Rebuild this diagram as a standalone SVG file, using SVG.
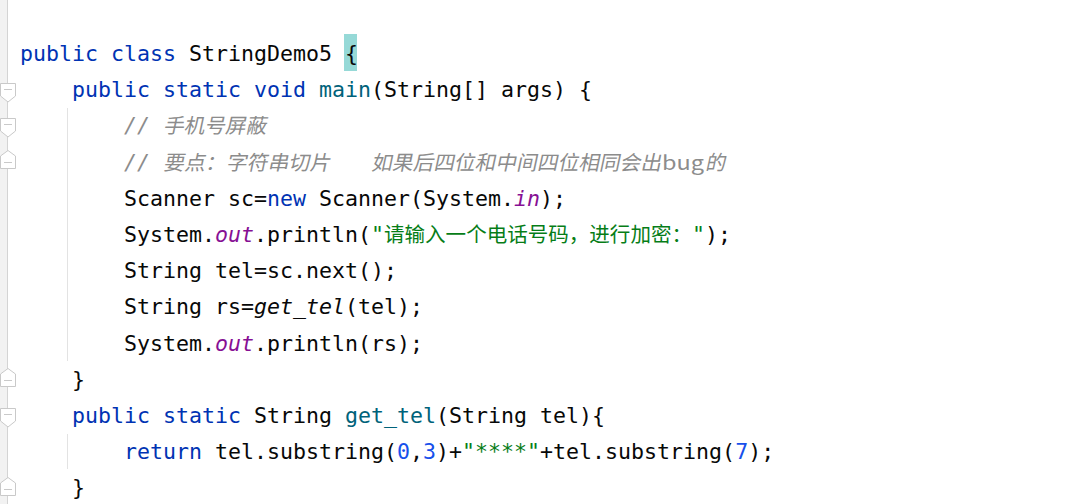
<svg xmlns="http://www.w3.org/2000/svg" width="1072" height="504" viewBox="0 0 1072 504" xml:space="preserve">
<style>
text { font-family: "DejaVu Sans Mono", "Liberation Mono", monospace; font-size: 21.6px; fill: #080808; white-space: pre; }
.kw { fill: #0033B3; }
.fn { fill: #00627A; }
.st { fill: #067D17; }
.nm { fill: #1750EB; }
.fd { fill: #871094; font-style: italic; }
.it { font-style: italic; }
.cm { fill: #8C8C8C; font-style: italic; }
.cjk { font-family: "Noto Sans CJK SC", "DejaVu Sans", sans-serif; font-size: 20.4px; }
.cmc { fill: #8C8C8C; font-style: normal; }
.fold { fill: #FFFFFF; stroke: #C9C9C9; stroke-width: 1; }
.guide { stroke: #E3E3E3; stroke-width: 1; }
</style>
<defs>
<g id="foldDown">
<polygon class="fold" points="0.5,0.5 15.5,0.5 15.5,13 8,19 0.5,13"/>
<line x1="4" y1="6.5" x2="12" y2="6.5" stroke="#C9C9C9" stroke-width="1"/>
</g>
<g id="foldUp">
<polygon class="fold" points="0.5,6 8,0.5 15.5,6 15.5,18.5 0.5,18.5"/>
<line x1="4" y1="12.5" x2="12" y2="12.5" stroke="#C9C9C9" stroke-width="1"/>
</g>
</defs>
<rect x="0" y="0" width="1072" height="504" fill="#FFFFFF"/>
<g id="gutter">
<rect x="0" y="0" width="7.5" height="504" fill="#F2F2F2"/>
<line x1="7.5" y1="0" x2="7.5" y2="504" stroke="#D4D4D4" stroke-width="1"/>
<use href="#foldDown" x="0" y="83"/>
<use href="#foldDown" x="0" y="118"/>
<use href="#foldUp" x="0" y="150"/>
<use href="#foldUp" x="0" y="368"/>
<use href="#foldDown" x="0" y="408"/>
<use href="#foldUp" x="0" y="477"/>
</g>
<g id="guides">
<line class="guide" x1="67.5" y1="108" x2="67.5" y2="361"/>
<line class="guide" x1="67.5" y1="434" x2="67.5" y2="469"/>
</g>
<rect id="caret-match" x="344" y="34" width="13" height="37" fill="#96D9D7"/>
<g id="code">
<text x="20" y="61"><tspan class="kw">public class </tspan>StringDemo5 {</text>
<text x="72" y="97.2"><tspan class="kw">public static void </tspan><tspan class="fn">main</tspan>(String[] args) {</text>
<text x="124" y="133.4"><tspan class="cm">// </tspan></text>
<text class="cmc cjk" transform="translate(163,133.4) skewX(-12)" x="0" y="0" textLength="103" lengthAdjust="spacingAndGlyphs">手机号屏蔽</text>
<text x="124" y="169.6"><tspan class="cm">// </tspan></text>
<text class="cmc cjk" transform="translate(163,169.6) skewX(-12)" x="0" y="0" textLength="167" lengthAdjust="spacingAndGlyphs">要点：字符串切片</text>
<text class="cmc cjk" transform="translate(371,169.6) skewX(-12)" x="0" y="0" textLength="290" lengthAdjust="spacingAndGlyphs">如果后四位和中间四位相同会出</text>
<text class="cmc cjk" x="662" y="169.6" textLength="42" lengthAdjust="spacingAndGlyphs">bug</text>
<text class="cmc cjk" transform="translate(705,169.6) skewX(-12)" x="0" y="0" textLength="20" lengthAdjust="spacingAndGlyphs">的</text>
<text x="124" y="205.8">Scanner sc=<tspan class="kw">new</tspan> Scanner(System.<tspan class="fd">in</tspan>);</text>
<text x="124" y="242">System.<tspan class="fd">out</tspan>.println(<tspan class="st">"</tspan></text>
<text class="st cjk" x="384" y="242" textLength="308" lengthAdjust="spacingAndGlyphs">请输入一个电话号码，进行加密：</text>
<text x="692" y="242"><tspan class="st">"</tspan>);</text>
<text x="124" y="278.2">String tel=sc.next();</text>
<text x="124" y="314.4">String rs=<tspan class="it">get_tel</tspan>(tel);</text>
<text x="124" y="350.6">System.<tspan class="fd">out</tspan>.println(rs);</text>
<text x="72" y="386.8">}</text>
<text x="72" y="423"><tspan class="kw">public static </tspan>String <tspan class="fn">get_tel</tspan>(String tel){</text>
<text x="124" y="459.2"><tspan class="kw">return</tspan> tel.substring(<tspan class="nm">0</tspan>,<tspan class="nm">3</tspan>)+<tspan class="st">"****"</tspan>+tel.substring(<tspan class="nm">7</tspan>);</text>
<text x="72" y="495.4">}</text>
</g>
</svg>
